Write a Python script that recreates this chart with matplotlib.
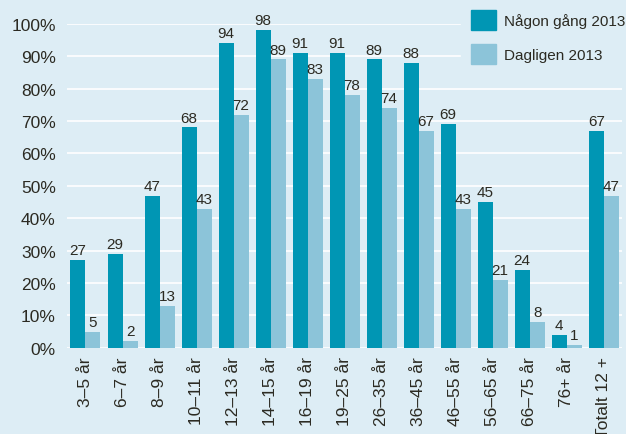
import numpy as np
import matplotlib.pyplot as plt
from matplotlib.patches import Patch

plt.rcParams['font.family'] = ['Liberation Sans', 'DejaVu Sans']

BG = '#ddedf5'
DARK = '#0096b4'
LIGHT = '#8cc4d9'
TEXT = '#2b2a22'

categories = ['3–5 år', '6–7 år', '8–9 år', '10–11 år', '12–13 år', '14–15 år',
              '16–19 år', '19–25 år', '26–35 år', '36–45 år', '46–55 år',
              '56–65 år', '66–75 år', '76+ år', 'Totalt 12 +']
nagon_gang = [27, 29, 47, 68, 94, 98, 91, 91, 89, 88, 69, 45, 24, 4, 67]
dagligen = [5, 2, 13, 43, 72, 89, 83, 78, 74, 67, 43, 21, 8, 1, 47]
series_labels = ['Någon gång 2013', 'Dagligen 2013']

fig = plt.figure(figsize=(6.26, 4.35), dpi=100, facecolor=BG)
ax = fig.add_axes([0.107, 0.198, 0.887, 0.745], facecolor=BG)

x = np.arange(len(categories))
w = 0.405
b1 = ax.bar(x - w / 2, nagon_gang, w, color=DARK, zorder=3)
b2 = ax.bar(x + w / 2, dagligen, w, color=LIGHT, zorder=3)

for bars, vals in ((b1, nagon_gang), (b2, dagligen)):
    for rect, v in zip(bars, vals):
        ax.text(rect.get_x() + rect.get_width() / 2, v + 0.9, str(v),
                ha='center', va='bottom', fontsize=11, color=TEXT, zorder=4)

ax.set_xlim(-0.5, len(categories) - 0.5)
ax.set_ylim(0, 100)
ax.set_yticks(np.arange(0, 101, 10))
ax.set_yticklabels([f'{t}%' for t in range(0, 101, 10)])
ax.set_xticks(x)
ax.set_xticklabels(categories, rotation=90)
ax.tick_params(length=0, labelsize=12.5, colors=TEXT)
ax.tick_params(axis='y', pad=8)
ax.tick_params(axis='x', pad=6)
ax.yaxis.grid(True, color='white', linewidth=1.2, zorder=0)
for s in ax.spines.values():
    s.set_visible(False)

handles = [Patch(color=DARK), Patch(color=LIGHT)]
leg = fig.legend(handles, series_labels, loc='upper right',
                 bbox_to_anchor=(1.008, 0.988), fontsize=11, frameon=True,
                 handlelength=1.6, handleheight=1.6, labelspacing=0.95,
                 handletextpad=0.5, borderpad=0.4, borderaxespad=0.0)
leg.get_frame().set_facecolor(BG)
leg.get_frame().set_edgecolor(BG)
leg.get_frame().set_alpha(1)
leg.get_frame().set_boxstyle('square', pad=0.3)
for t in leg.get_texts():
    t.set_color(TEXT)

fig.savefig('out.png', dpi=100, facecolor=BG)
